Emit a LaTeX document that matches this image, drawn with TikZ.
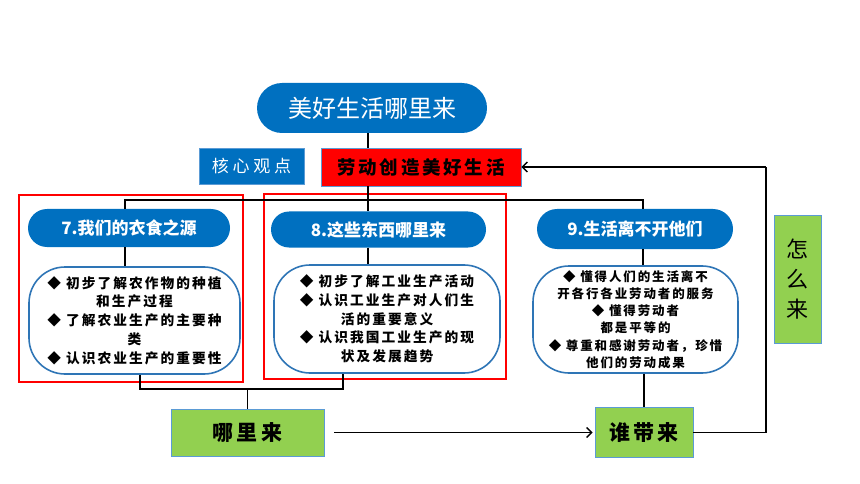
\documentclass[tikz,border=0pt]{standalone}
\usepackage{fontspec}
\setmainfont{Noto Sans CJK SC}
\newfontfamily\cjkspaced[LetterSpace=15]{Noto Sans CJK SC}
\newfontfamily\cjkwide[LetterSpace=22]{Noto Sans CJK SC}
\usetikzlibrary{arrows.meta,calc}
\definecolor{ovalblue}{HTML}{0070C0}
\definecolor{edgeblue}{HTML}{2E75B6}
\definecolor{leaf}{HTML}{92D050}
\definecolor{thinblue}{HTML}{5B9BD5}
\definecolor{pureRed}{HTML}{FF0000}
\begin{document}
\begin{tikzpicture}[x=1pt,y=-1pt,
  oval/.style={fill=ovalblue, draw=none, text=white, inner sep=0pt},
  descbox/.style={fill=white, draw=edgeblue, line width=1.6pt, inner sep=0pt, align=center,
     font=\cjkspaced\bfseries\fontsize{13.7}{18.7}\selectfont},
  greenbox/.style={fill=leaf, draw=thinblue, line width=0.8pt, inner sep=0pt},
  frame/.style={draw=pureRed, line width=1.8pt},
  conn/.style={draw=black, line width=1.4pt},
  arr/.style={conn, -{Straight Barb[length=5pt,width=10pt,line width=1.4pt]}}
]
\useasboundingbox (0,0) rectangle (860,484);

% red frames
\draw[frame] (19,195) rectangle (243,382);
\draw[frame] (264,194) rectangle (506,379);

% coordinates
\coordinate (spine) at (368,200);
\coordinate (busL) at (125,200);
\coordinate (busR) at (643,200);
\coordinate (lb) at (140,389);
\coordinate (mb) at (343,389);
\coordinate (rc) at (766,167);

% nodes
\node[oval, rounded corners=25pt, minimum width=230pt, minimum height=50pt,
      font=\fontsize{24}{26}\selectfont] (top) at (372,108) {美好生活哪里来};
\node[fill=pureRed, draw=thinblue, line width=0.8pt, minimum width=200pt, minimum height=38pt,
      inner sep=0pt, font=\cjkspaced\bfseries\fontsize{18.5}{20}\selectfont] (core) at (421,167) {劳动创造美好生活};
\node[fill=ovalblue, draw=thinblue, line width=0.6pt, minimum width=105pt, minimum height=36pt,
      inner sep=0pt, text=white, font=\cjkwide\fontsize{17}{18}\selectfont] (kx) at (251.5,166) {核心观点};

\node[oval, rounded corners=19pt, minimum width=202pt, minimum height=38pt,
      font=\bfseries\fontsize{17}{18}\selectfont] (o7) at (129,228) {7.我们的衣食之源};
\node[oval, rounded corners=18pt, minimum width=215pt, minimum height=36pt,
      font=\bfseries\fontsize{17}{18}\selectfont] (o8) at (378.5,229.5) {8.这些东西哪里来};
\node[oval, rounded corners=20pt, minimum width=196pt, minimum height=40pt,
      font=\bfseries\fontsize{17}{18}\selectfont] (o9) at (635,229) {9.生活离不开他们};

\node[descbox, rounded corners=36pt, minimum width=211pt, minimum height=107pt] (d7) at (134.5,320.5)
  {◆ 初步了解农作物的种植\\和生产过程\\◆ 了解农业生产的主要种\\类\\◆ 认识农业生产的重要性};
\node[descbox, rounded corners=36pt, minimum width=226pt, minimum height=108pt] (d8) at (387,319)
  {◆ 初步了解工业生产活动\\◆ 认识工业生产对人们生\\活的重要意义\\◆ 认识我国工业生产的现\\状及发展趋势};
\node[descbox, rounded corners=36pt, minimum width=205pt, minimum height=107pt,
      font=\cjkspaced\bfseries\fontsize{12.5}{17.2}\selectfont] (d9) at (635.5,319.5)
  {◆ 懂得人们的生活离不\\开各行各业劳动者的服务\\◆ 懂得劳动者\\都是平等的\\◆ 尊重和感谢劳动者，珍惜\\他们的劳动成果};

\node[greenbox, minimum width=47pt, minimum height=128pt, align=center,
      font=\fontsize{22}{30}\selectfont] (zml) at (797.5,279) {怎\\么\\来};
\node[greenbox, minimum width=153pt, minimum height=47pt,
      font=\cjkspaced\bfseries\fontsize{21}{22}\selectfont] (nl) at (247.5,432.5) {哪里来};
\node[greenbox, minimum width=98pt, minimum height=50pt,
      font=\cjkspaced\bfseries\fontsize{21}{22}\selectfont] (nw) at (644,432.5) {谁带来};

% connectors
\draw[conn] (top.south -| spine) -- (core.north -| spine);
\draw[conn] (core.south -| spine) -- (o8.north -| spine);
\draw[conn] (o7.north -| busL) -- (busL) -- (busR) -- (o9.north -| busR);
\draw[conn] (o7.south -| busL) -- (d7.north -| busL);
\draw[conn] (o8.south -| spine) -- (d8.north -| spine);
\draw[conn] (o9.south -| busR) -- (d9.north -| busR);
\draw[conn] (d7.south -| lb) -- (lb) -- (mb) -- (d8.south -| mb);
\draw[conn] (nl.north) -- (nl.north |- lb);
\draw[conn] (d9.south -| nw.north) -- (nw.north);
\draw[arr, shorten <=10pt, shorten >=2pt] (nl.east) -- (nw.west);
\draw[conn] (nw.east) -- (nw.east -| rc) -- (rc);
\draw[arr] (rc) -- (core.east);
\end{tikzpicture}
\end{document}
